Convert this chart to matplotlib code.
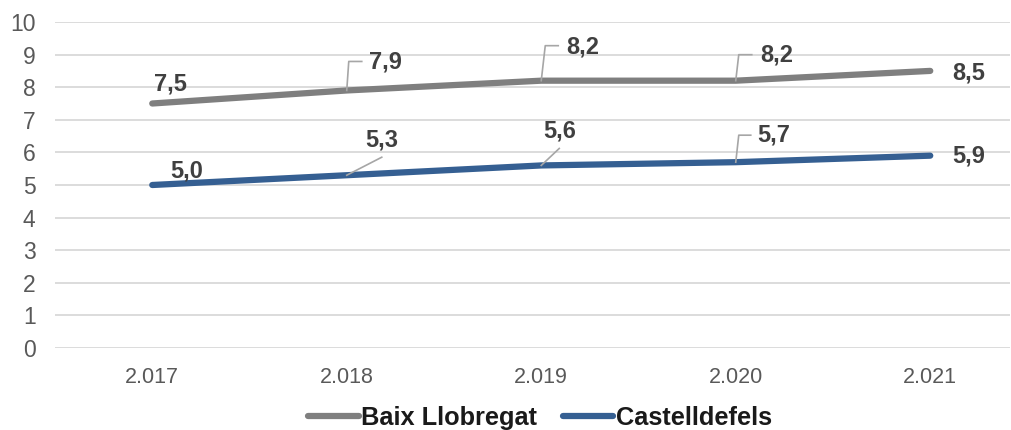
import matplotlib.pyplot as plt
from matplotlib.lines import Line2D

plt.rcParams['font.family'] = ['Liberation Sans', 'DejaVu Sans']

# Données
annees = ['2.017', '2.018', '2.019', '2.020', '2.021']
baix = [7.5, 7.9, 8.2, 8.2, 8.5]
castell = [5.0, 5.3, 5.6, 5.7, 5.9]

col_baix = '#7f7f7f'
col_cast = '#355f92'
col_txt = '#404040'
col_lead = '#a6a6a6'

# décalages des étiquettes (pixels) et lignes de rappel
off_baix = [(18, 20), (39, 28), (41, 34), (41, 26), (38, -2)]
off_cast = [(34, 14), (35, 35), (18, 34), (38, 27), (38, 0)]
lead_baix = [None, [(0, 0), (2, 29), (15, 29)], [(0, 0), (4, 35), (17, 35)],
             [(0, 0), (3, 26), (16, 26)], None]
lead_cast = [None, [(0, 0), (35, 18)], [(0, 0), (18, 17)],
             [(0, 0), (3, 27), (15, 27)], None]

fig = plt.figure(figsize=(10.12, 4.30), dpi=100)
ax = fig.add_axes([55 / 1012, 82 / 430, 955 / 1012, 326 / 430])
x = list(range(len(annees)))

ax.plot(x, baix, color=col_baix, lw=4.5, solid_capstyle='round', zorder=3)
ax.plot(x, castell, color=col_cast, lw=4.5, solid_capstyle='round', zorder=3)

ax.set_ylim(0, 10)
ax.set_xlim(-0.5, 4.41)
ax.set_yticks(range(0, 11))
ax.set_xticks(x)
ax.set_xticklabels(annees)
ax.grid(axis='y', color='#d9d9d9', lw=1.3)
ax.set_axisbelow(True)
for s in ax.spines.values():
    s.set_visible(False)
ax.tick_params(axis='y', length=0, pad=14, labelsize=16.5, labelcolor='#595959')
ax.tick_params(axis='x', length=0, pad=14, labelsize=15.5, labelcolor='#595959')

fig.canvas.draw()


def leader(xv, yv, pts):
    px, py = ax.transData.transform((xv, yv))
    xs = [px + dx for dx, dy in pts]
    ys = [py + dy for dx, dy in pts]
    fig.add_artist(Line2D(xs, ys, color=col_lead, lw=1.2, transform=None, zorder=4))


for vals, offs, leads in [(baix, off_baix, lead_baix), (castell, off_cast, lead_cast)]:
    for i, v in enumerate(vals):
        ax.annotate(f'{v:.1f}'.replace('.', ','), (i, v), xytext=offs[i],
                    textcoords='offset pixels', ha='center', va='center',
                    fontsize=17, fontweight='bold', color=col_txt,
                    annotation_clip=False)
        if leads[i]:
            leader(i, v, leads[i])

handles = [Line2D([], [], color=col_baix, lw=4.5, solid_capstyle='round'),
           Line2D([], [], color=col_cast, lw=4.5, solid_capstyle='round')]
fig.legend(handles, ['Baix Llobregat', 'Castelldefels'], loc='center',
           bbox_to_anchor=(540 / 1012, 1 - 418 / 430), ncol=2, frameon=False,
           prop={'size': 18.3, 'weight': 'bold'}, labelcolor='#1a1a1a',
           handlelength=2.0, handletextpad=0.1, columnspacing=1.0)

fig.savefig('out.png', dpi=100)
